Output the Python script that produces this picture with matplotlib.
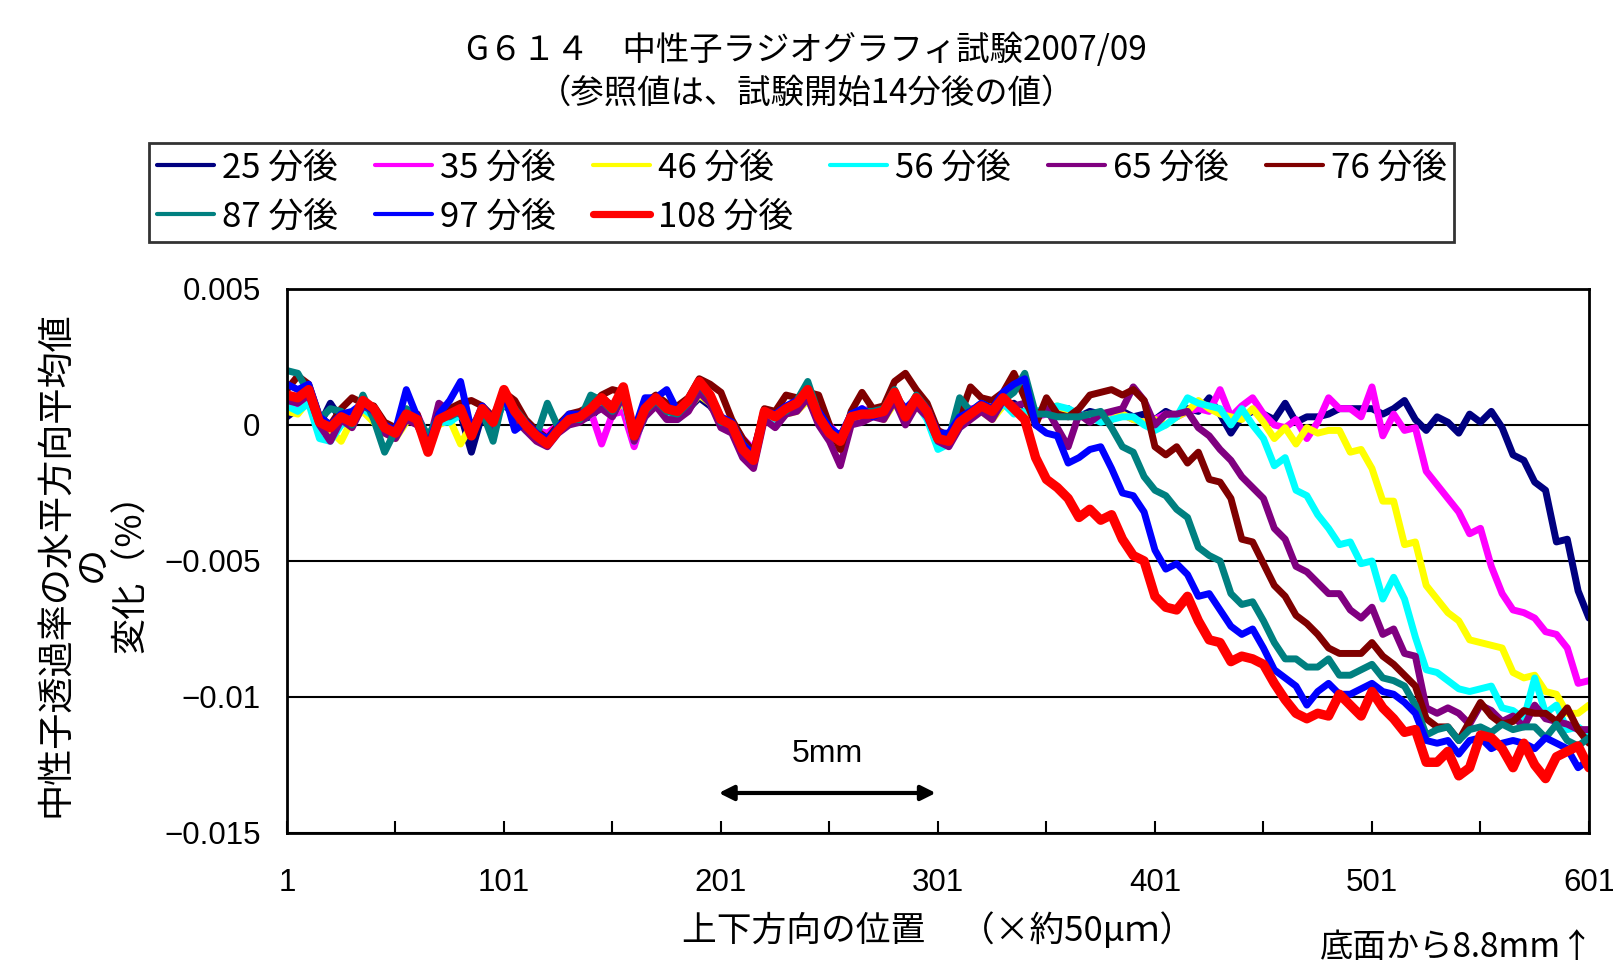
import numpy as np
import matplotlib.pyplot as plt

plt.rcParams['font.family'] = ['Noto Sans CJK JP', 'DejaVu Sans']

# position index along the specimen (every 5th sample point)
positions = np.arange(1, 602, 5)

# change of horizontally averaged neutron transmission, in units of 0.001 %
# (one row = 50 positions: 1..46, 51..96, ..., 551..596, then 601)
v25 = [0.3, 0.6, 0.9, 0.0, 0.8, 0.2, 0.3, 0.5, 0.4, -0.2,
       -0.2, 0.3, 0.1, -0.6, 0.1, 0.3, 0.4, -1.0, 0.4, 0.0,
       0.8, 0.3, -0.1, -0.3, -0.5, -0.1, 0.3, 0.2, 0.3, 0.7,
       0.5, 0.9, -0.2, 0.4, 0.7, 0.4, 0.3, 0.6, 1.0, 0.7,
       0.2, -0.1, -0.6, -0.9, 0.3, 0.2, 0.5, 0.6, 0.9, 0.4,
       -0.1, -0.4, 0.3, 0.5, 0.6, 0.3, 0.8, 0.4, 0.7, 0.4,
       -0.3, -0.4, 0.1, 0.3, 0.5, 0.4, 0.7, 0.8, 0.4, 0.3,
       0.5, 0.4, 0.6, 0.3, 0.5, 0.4, 0.2, 0.5, 0.3, 0.4,
       0.2, 0.5, 0.3, 0.6, 0.5, 1.0, 0.4, -0.3, 0.3, 0.5,
       0.4, 0.2, 0.8, 0.1, 0.3, 0.3, 0.4, 0.6, 0.6, 0.6,
       0.6, 0.4, 0.6, 0.9, 0.2, -0.2, 0.3, 0.1, -0.3, 0.4,
       0.1, 0.5, -0.1, -1.1, -1.3, -2.1, -2.4, -4.3, -4.2, -6.1,
       -7.1]
v35 = [0.8, 0.7, 1.0, 0.2, -0.4, 0.1, 0.4, 0.6, 0.3, 0.0,
       -0.1, 0.2, 0.4, -0.5, 0.3, 0.2, 0.4, -0.1, 0.5, 0.2,
       0.9, 0.4, 0.1, -0.2, -0.3, 0.0, 0.3, 0.4, 0.5, -0.7,
       0.4, 0.5, -0.8, 0.5, 0.8, 0.5, 0.3, 0.7, 1.2, 0.9,
       0.1, 0.1, -0.5, -0.9, 0.4, 0.2, 0.5, 0.7, 1.1, 0.6,
       0.0, -0.5, 0.2, 0.6, 0.4, 0.6, 1.0, 0.5, 0.9, 0.4,
       -0.2, -0.7, 0.3, 0.6, 0.6, 0.3, 0.8, 0.6, 0.3, 0.3,
       0.4, 0.5, 0.4, 0.3, 0.3, 0.2, 0.3, 0.4, 0.2, 0.1,
       0.2, 0.4, 0.3, 0.5, 0.6, 0.5, 1.3, 0.3, 0.7, 1.0,
       0.4, 0.0, -0.1, 0.2, -0.5, 0.1, 1.0, 0.6, 0.6, 0.3,
       1.4, -0.4, 0.4, -0.2, -0.1, -1.7, -2.2, -2.7, -3.2, -4.0,
       -3.8, -5.2, -6.2, -6.8, -6.9, -7.1, -7.6, -7.7, -8.2, -9.5,
       -9.4]
v46 = [0.5, 0.4, 0.9, -0.1, -0.2, -0.6, 0.2, 0.5, 0.1, -0.3,
       -0.5, 0.1, 0.2, -0.6, 0.0, 0.2, -0.7, 0.0, 0.4, 0.0,
       0.9, 0.3, -0.1, -0.4, -0.5, -0.1, 0.1, 0.2, 0.4, 0.7,
       0.4, 0.9, -0.3, 0.4, 0.7, 0.3, 0.3, 0.6, 1.1, 0.8,
       0.0, -0.2, -0.6, -1.0, 0.2, 0.0, 0.4, 0.5, 0.9, 0.2,
       -0.2, -0.6, 0.2, 0.3, 0.4, 0.2, 0.8, 0.3, 0.7, 0.3,
       -0.4, -0.5, 0.0, 0.3, 0.5, 0.2, 0.7, 0.6, 0.4, 0.5,
       0.6, 0.7, 0.5, 0.3, 0.4, 0.3, 0.2, 0.4, 0.2, 0.1,
       0.2, 0.0, 0.3, 0.5, 0.9, 0.6, 0.4, 0.3, 0.2, 0.6,
       0.1, -0.5, -0.1, -0.7, -0.1, -0.3, -0.2, -0.2, -1.0, -0.9,
       -1.6, -2.8, -2.8, -4.4, -4.3, -5.9, -6.4, -6.9, -7.2, -7.9,
       -8.0, -8.1, -8.2, -9.1, -9.3, -9.2, -9.8, -9.9, -10.6, -10.6,
       -10.3]
v56 = [0.7, 0.5, 0.8, -0.5, -0.6, 0.0, 0.2, 0.6, 0.3, -0.2,
       -0.4, 0.2, 0.3, -0.7, 0.1, 0.1, 0.4, -0.3, 0.5, -0.2,
       0.9, 0.4, -0.2, -0.5, -0.6, -0.2, 0.2, 0.2, 0.4, 0.8,
       0.5, 1.0, -0.6, 0.3, 0.8, 0.4, 0.2, 0.6, 1.2, 0.9,
       0.0, -0.2, -0.7, -1.1, 0.3, 0.1, 0.4, 0.6, 1.0, 0.1,
       -0.4, -0.7, 0.1, 0.2, 0.4, 0.3, 0.9, 0.2, 0.8, 0.2,
       -0.9, -0.7, -0.1, 0.3, 0.6, 0.3, 0.8, 0.4, 0.5, 0.5,
       0.6, 0.7, 0.6, 0.4, 0.3, 0.1, 0.2, 0.3, 0.3, 0.0,
       -0.2, 0.0, 0.3, 1.0, 0.8, 0.7, 0.6, 0.0, 0.6, 0.0,
       -0.5, -1.5, -1.2, -2.4, -2.6, -3.3, -3.8, -4.4, -4.3, -5.1,
       -5.0, -6.4, -5.6, -6.4, -7.8, -9.0, -9.1, -9.4, -9.7, -9.8,
       -9.7, -9.6, -10.4, -10.5, -10.8, -9.3, -10.6, -10.3, -11.2, -11.1,
       -11.4]
v65 = [0.9, 0.8, 1.1, 0.0, -0.6, 0.2, -0.1, 0.7, 0.5, -0.3,
       -0.5, 0.2, 0.0, -0.8, 0.8, 0.5, 0.4, -0.2, 0.3, -0.1,
       1.0, 0.2, -0.2, -0.6, -0.8, -0.3, 0.0, 0.1, 0.4, 0.6,
       0.3, 1.1, -0.6, 0.3, 0.7, 0.2, 0.2, 0.5, 1.2, 0.8,
       -0.1, -0.3, -1.2, -1.6, 0.2, -0.1, 0.4, 0.5, 1.0, 0.0,
       -0.6, -1.5, 0.0, 0.1, 0.3, 0.2, 0.9, 0.0, 0.7, 0.3,
       -0.6, -0.8, -0.1, 0.2, 0.5, 0.2, 0.9, 0.7, 0.8, 0.4,
       0.6, -0.1, -0.8, 0.4, 0.1, 0.4, 0.5, 0.6, 1.4, 0.9,
       0.0, 0.4, 0.4, 0.5, -0.1, -0.4, -0.9, -1.3, -1.9, -2.3,
       -2.7, -3.8, -4.2, -5.2, -5.4, -5.8, -6.2, -6.2, -6.8, -7.1,
       -6.7, -7.7, -7.5, -8.4, -8.5, -10.4, -10.6, -10.4, -10.6, -11.0,
       -10.3, -10.5, -10.9, -10.7, -11.1, -10.3, -10.8, -10.9, -11.0, -11.2,
       -11.2]
v76 = [1.3, 1.8, 1.5, 0.3, 0.0, 0.6, 1.0, 0.8, 0.7, 0.1,
       -0.1, 0.5, 0.4, -0.7, 0.4, 0.6, 0.8, 0.9, 0.7, 0.3,
       1.2, 0.9, 0.2, -0.2, -0.5, 0.0, 0.4, 0.5, 0.7, 1.1,
       1.3, 1.2, -0.2, 0.8, 1.1, 0.8, 0.7, 1.0, 1.7, 1.5,
       1.2, 0.2, -0.5, -1.0, 0.6, 0.5, 1.1, 1.0, 1.2, 1.1,
       0.0, -0.9, 0.5, 1.2, 0.6, 0.7, 1.6, 1.9, 1.3, 0.8,
       -0.2, -0.4, 0.3, 1.4, 1.0, 0.9, 1.2, 1.9, 1.0, 0.0,
       1.0, 0.4, 0.3, 0.6, 1.1, 1.2, 1.3, 1.1, 1.3, 0.9,
       -0.8, -1.1, -0.8, -1.4, -1.0, -2.0, -2.1, -2.7, -4.2, -4.3,
       -5.1, -5.9, -6.3, -7.0, -7.3, -7.7, -8.2, -8.4, -8.4, -8.4,
       -8.0, -8.5, -8.8, -9.2, -9.6, -10.8, -11.1, -11.1, -11.6, -10.9,
       -10.2, -10.7, -11.0, -10.9, -10.5, -10.6, -10.6, -10.9, -10.4, -11.2,
       -11.7]
v87 = [2.0, 1.9, 1.2, 0.2, 0.6, 0.5, 0.0, 1.1, 0.2, -1.0,
       -0.2, 0.6, 0.3, -0.4, 0.3, 0.3, 0.5, -0.3, 0.5, -0.6,
       1.1, 0.6, 0.1, -0.4, 0.8, -0.1, 0.2, 0.2, 1.1, 0.9,
       0.5, 1.2, -0.3, 0.5, 0.9, 0.5, 0.4, 0.8, 1.5, 1.0,
       0.1, 0.1, -0.7, -1.1, 0.4, 0.4, 0.5, 0.9, 1.6, 0.4,
       -0.2, -0.5, 0.4, 0.5, 0.5, 0.6, 1.3, 0.4, 1.1, 0.6,
       -0.4, -0.5, 1.0, 0.5, 0.8, 0.6, 0.9, 1.2, 1.9, 0.4,
       0.4, 0.3, 0.3, 0.3, 0.4, 0.5, -0.1, -0.8, -1.0, -1.9,
       -2.4, -2.6, -3.1, -3.4, -4.5, -4.8, -5.0, -6.2, -6.6, -6.5,
       -7.2, -8.0, -8.6, -8.6, -8.9, -8.9, -8.6, -9.2, -9.2, -9.0,
       -8.8, -9.3, -9.4, -9.6, -10.3, -11.4, -11.2, -11.1, -11.6, -11.2,
       -11.1, -11.3, -11.0, -11.2, -11.1, -11.1, -11.5, -11.0, -11.6, -11.8,
       -11.5]
v97 = [1.5, 1.3, 1.5, 0.3, 0.0, 0.4, 0.5, 0.8, 0.5, 0.0,
       -0.2, 1.3, 0.3, -0.8, 0.4, 0.9, 1.6, -0.2, 0.7, 0.2,
       1.2, -0.2, 0.1, -0.3, -0.5, -0.1, 0.4, 0.4, 0.6, 1.0,
       0.7, 1.3, -0.2, 1.0, 1.0, 1.3, 0.5, 0.9, 1.5, 1.1,
       0.3, 0.1, -0.7, -1.1, 0.5, 0.4, 0.7, 0.9, 1.1, 0.5,
       -0.1, -0.4, 0.4, 0.6, 0.3, 0.5, 1.1, 0.6, 1.0, 0.6,
       -0.3, -0.3, 0.3, 0.5, 0.8, 0.6, 1.2, 1.5, 1.7, 0.0,
       -0.3, -0.4, -1.4, -1.2, -0.9, -0.8, -1.6, -2.5, -2.6, -3.2,
       -4.6, -5.3, -5.1, -5.5, -6.3, -6.2, -6.8, -7.4, -7.7, -7.5,
       -8.2, -9.0, -9.3, -9.6, -10.3, -9.8, -9.5, -9.9, -9.9, -9.7,
       -9.5, -9.8, -9.9, -10.2, -10.6, -11.6, -11.7, -11.6, -12.1, -11.6,
       -11.5, -11.9, -11.7, -11.6, -11.7, -11.9, -11.5, -11.7, -11.9, -12.6,
       -12.3]
v108 = [1.1, 1.0, 1.3, 0.1, -0.1, 0.3, 0.1, 0.9, 0.6, -0.1,
        -0.3, 0.4, 0.2, -1.0, 0.2, 0.4, 0.6, -0.4, 0.6, 0.1,
        1.3, 0.5, 0.0, -0.4, -0.7, -0.2, 0.2, 0.3, 0.6, 1.0,
        0.6, 1.4, -0.4, 0.6, 1.0, 0.6, 0.5, 0.9, 1.6, 1.1,
        0.2, 0.0, -0.9, -1.3, 0.5, 0.3, 0.6, 0.8, 1.3, 0.3,
        -0.3, -0.6, 0.3, 0.4, 0.4, 0.5, 1.2, 0.3, 1.0, 0.5,
        -0.5, -0.6, 0.1, 0.4, 0.7, 0.5, 1.0, 0.6, 0.2, -1.2,
        -2.0, -2.3, -2.7, -3.4, -3.1, -3.5, -3.3, -4.2, -4.8, -5.0,
        -6.3, -6.7, -6.8, -6.3, -7.2, -7.9, -8.0, -8.7, -8.5, -8.6,
        -8.8, -9.5, -10.1, -10.6, -10.8, -10.6, -10.7, -9.9, -10.3, -10.7,
        -9.8, -10.4, -10.8, -11.3, -11.2, -12.4, -12.4, -12.0, -12.9, -12.6,
        -11.4, -11.5, -11.9, -12.6, -11.7, -12.5, -13.0, -12.2, -12.0, -11.8,
        -12.6]

series = [v25, v35, v46, v56, v65, v76, v87, v97, v108]
labels = ['25 分後', '35 分後', '46 分後', '56 分後', '65 分後', '76 分後',
          '87 分後', '97 分後', '108 分後']
colors = ['#000080', '#FF00FF', '#FFFF00', '#00FFFF', '#800080', '#800000',
          '#008080', '#0000FF', '#FF0000']
widths = [5.0, 5.0, 5.0, 5.0, 5.0, 5.0, 5.0, 5.0, 6.8]
legend_widths = [3.0, 3.0, 3.0, 3.0, 3.0, 3.0, 3.0, 3.0, 5.2]

y_ticks = [0.005, 0, -0.005, -0.01, -0.015]
y_tick_labels = ['0.005', '0', '\u22120.005', '\u22120.01', '\u22120.015']
x_ticks = [1, 101, 201, 301, 401, 501, 601]
x_minor = [51, 151, 251, 351, 451, 551]
scale_bar = (200, 300)

fig = plt.figure(figsize=(16.13, 9.74), dpi=100)
ax = fig.add_axes([0.1779, 0.1448, 0.8072, 0.5585])

lines = []
for vals, lab, col, lw in zip(series, labels, colors, widths):
    assert len(vals) == len(positions)
    ln, = ax.plot(positions, np.array(vals) * 1e-3, color=col, lw=lw, label=lab,
                  solid_joinstyle='round', solid_capstyle='round')
    lines.append(ln)

ax.set_xlim(1, 601)
ax.set_ylim(-0.015, 0.005)
ax.set_yticks(y_ticks)
ax.set_yticklabels(y_tick_labels, family='Liberation Sans', fontsize=22.5)
ax.set_xticks(x_ticks)
ax.set_xticklabels([str(t) for t in x_ticks], family='Liberation Sans', fontsize=22.5)
ax.set_xticks(x_minor, minor=True)
ax.yaxis.grid(True, color='black', lw=1.5)
ax.set_axisbelow(True)
ax.tick_params(axis='x', which='both', direction='in', length=9, width=1.5, pad=25)
ax.tick_params(axis='y', length=0, pad=19)
for sp in ax.spines.values():
    sp.set_linewidth(2)

# scale bar
ax.annotate('', xy=(scale_bar[0], -0.01353), xytext=(scale_bar[1], -0.01353),
            arrowprops=dict(arrowstyle='<|-|>', color='black', lw=3,
                            mutation_scale=22, shrinkA=0, shrinkB=0))
ax.text(sum(scale_bar) / 2, -0.0121, '5mm', ha='center', va='center',
        family='Liberation Sans', fontsize=23)

fig.text(0.5, 1 - 51 / 974, 'G６１４　中性子ラジオグラフィ試験2007/09',
         ha='center', va='center', fontsize=24)
fig.text(0.5, 1 - 93 / 974, '（参照値は、試験開始14分後の値）',
         ha='center', va='center', fontsize=24)

fig.text(93 / 1613, 0.421, '中性子透過率の水平方向平均値\nの\n変化（%）',
         rotation=90, ha='center', va='center', fontsize=26, linespacing=1.08,
         multialignment='center')
fig.text(0.5815, 1 - 931 / 974, '上下方向の位置　（×約50μｍ）',
         ha='center', va='center', fontsize=25)
fig.text(1594 / 1613, 1 - 948 / 974, '底面から8.8mm↑',
         ha='right', va='center', fontsize=24)

# legend filled row by row (matplotlib fills columns first)
order = [0, 6, 1, 7, 2, 8, 3, 4, 5]
leg = fig.legend([lines[i] for i in order], [labels[i] for i in order],
                 ncol=6, loc='upper left', bbox_to_anchor=(149 / 1613, 1 - 143 / 974),
                 borderaxespad=0, fontsize=25,
                 handlelength=1.64, handletextpad=0.23, borderpad=0.22,
                 labelspacing=0.4, columnspacing=1.07, fancybox=False)
leg.get_frame().set_edgecolor('black')
leg.get_frame().set_linewidth(2)
for handle, i in zip(leg.get_lines(), order):
    handle.set_linewidth(legend_widths[i])

fig.savefig('out.png', dpi=100)
